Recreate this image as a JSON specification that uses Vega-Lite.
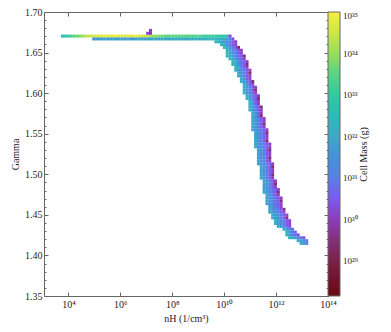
{
"$schema": "https://vega.github.io/schema/vega-lite/v6.json",
"width": 284, "height": 284,
"autosize": {"type": "none"},
"padding": {"left": 44, "top": 12, "right": 63, "bottom": 36},
"background": "white",
"config": {
 "view": {"stroke": "#666", "strokeWidth": 1},
 "font": "Liberation Serif",
 "axis": {"domainColor": "#666", "tickColor": "#666", "labelColor": "#222", "titleColor": "#222", "grid": false, "labelFont": "Liberation Serif", "titleFont": "Liberation Serif", "titleFontWeight": "normal", "labelFontSize": 10, "titleFontSize": 10}
},
"data": {"values": [
{"lognH":3.771,"gamma":1.6703,"logM":32.6},{"lognH":3.881,"gamma":1.6703,"logM":32.8},{"lognH":3.990,"gamma":1.6703,"logM":33.0},{"lognH":4.099,"gamma":1.6703,"logM":33.2},{"lognH":4.209,"gamma":1.6703,"logM":33.4},{"lognH":4.318,"gamma":1.6703,"logM":33.6},{"lognH":4.427,"gamma":1.6703,"logM":33.8},{"lognH":4.537,"gamma":1.6703,"logM":34.0},{"lognH":4.646,"gamma":1.6703,"logM":34.2},{"lognH":4.756,"gamma":1.6703,"logM":34.4},{"lognH":4.865,"gamma":1.6703,"logM":34.5},{"lognH":4.975,"gamma":1.6703,"logM":34.6},{"lognH":5.084,"gamma":1.6703,"logM":34.7},{"lognH":5.193,"gamma":1.6703,"logM":34.8},{"lognH":5.303,"gamma":1.6703,"logM":34.7},{"lognH":5.412,"gamma":1.6703,"logM":34.9},{"lognH":5.522,"gamma":1.6703,"logM":34.8},{"lognH":5.631,"gamma":1.6703,"logM":34.7},{"lognH":5.740,"gamma":1.6703,"logM":34.8},{"lognH":5.850,"gamma":1.6703,"logM":34.9},{"lognH":5.959,"gamma":1.6703,"logM":34.7},{"lognH":6.069,"gamma":1.6703,"logM":34.8},{"lognH":6.178,"gamma":1.6703,"logM":34.6},{"lognH":6.287,"gamma":1.6703,"logM":34.8},{"lognH":6.397,"gamma":1.6703,"logM":34.7},{"lognH":6.506,"gamma":1.6703,"logM":34.8},{"lognH":6.616,"gamma":1.6703,"logM":34.9},{"lognH":6.725,"gamma":1.6703,"logM":34.7},{"lognH":6.834,"gamma":1.6703,"logM":34.6},{"lognH":6.944,"gamma":1.6703,"logM":34.5},{"lognH":7.053,"gamma":1.6703,"logM":34.4},{"lognH":7.163,"gamma":1.6703,"logM":34.2},{"lognH":7.272,"gamma":1.6703,"logM":34.0},{"lognH":7.381,"gamma":1.6703,"logM":33.9},{"lognH":7.491,"gamma":1.6703,"logM":33.8},{"lognH":7.600,"gamma":1.6703,"logM":33.7},{"lognH":7.710,"gamma":1.6703,"logM":33.6},{"lognH":7.819,"gamma":1.6703,"logM":33.5},{"lognH":7.928,"gamma":1.6703,"logM":33.7},{"lognH":8.038,"gamma":1.6703,"logM":33.5},{"lognH":8.147,"gamma":1.6703,"logM":33.6},{"lognH":8.257,"gamma":1.6703,"logM":33.4},{"lognH":8.366,"gamma":1.6703,"logM":33.5},{"lognH":8.475,"gamma":1.6703,"logM":33.6},{"lognH":8.585,"gamma":1.6703,"logM":33.4},{"lognH":8.694,"gamma":1.6703,"logM":33.5},{"lognH":8.804,"gamma":1.6703,"logM":33.3},{"lognH":8.913,"gamma":1.6703,"logM":33.4},{"lognH":9.022,"gamma":1.6703,"logM":33.5},{"lognH":9.132,"gamma":1.6703,"logM":33.3},{"lognH":9.241,"gamma":1.6703,"logM":33.2},{"lognH":9.351,"gamma":1.6703,"logM":33.1},{"lognH":9.460,"gamma":1.6703,"logM":33.2},{"lognH":9.569,"gamma":1.6703,"logM":33.0},{"lognH":9.679,"gamma":1.6703,"logM":33.1},{"lognH":9.788,"gamma":1.6703,"logM":32.9},{"lognH":9.898,"gamma":1.6703,"logM":33.0},{"lognH":10.007,"gamma":1.6703,"logM":32.8},{"lognH":10.116,"gamma":1.6703,"logM":32.6},{"lognH":10.226,"gamma":1.6703,"logM":30.1},
{"lognH":4.975,"gamma":1.6668,"logM":31.6},{"lognH":5.084,"gamma":1.6668,"logM":31.8},{"lognH":5.193,"gamma":1.6668,"logM":31.5},{"lognH":5.303,"gamma":1.6668,"logM":31.7},{"lognH":5.412,"gamma":1.6668,"logM":32.0},{"lognH":5.522,"gamma":1.6668,"logM":31.6},{"lognH":5.631,"gamma":1.6668,"logM":31.8},{"lognH":5.740,"gamma":1.6668,"logM":32.1},{"lognH":5.850,"gamma":1.6668,"logM":31.5},{"lognH":5.959,"gamma":1.6668,"logM":31.7},{"lognH":6.069,"gamma":1.6668,"logM":31.9},{"lognH":6.178,"gamma":1.6668,"logM":31.6},{"lognH":6.287,"gamma":1.6668,"logM":32.0},{"lognH":6.397,"gamma":1.6668,"logM":31.7},{"lognH":6.506,"gamma":1.6668,"logM":31.5},{"lognH":6.616,"gamma":1.6668,"logM":31.9},{"lognH":6.725,"gamma":1.6668,"logM":32.1},{"lognH":6.834,"gamma":1.6668,"logM":31.7},{"lognH":6.944,"gamma":1.6668,"logM":31.6},{"lognH":7.053,"gamma":1.6668,"logM":32.0},{"lognH":7.163,"gamma":1.6668,"logM":31.8},{"lognH":7.272,"gamma":1.6668,"logM":32.1},{"lognH":7.381,"gamma":1.6668,"logM":31.9},{"lognH":7.491,"gamma":1.6668,"logM":31.7},{"lognH":7.600,"gamma":1.6668,"logM":32.2},{"lognH":7.710,"gamma":1.6668,"logM":32.0},{"lognH":7.819,"gamma":1.6668,"logM":31.8},{"lognH":7.928,"gamma":1.6668,"logM":32.1},{"lognH":8.038,"gamma":1.6668,"logM":32.3},{"lognH":8.147,"gamma":1.6668,"logM":31.9},{"lognH":8.257,"gamma":1.6668,"logM":32.1},{"lognH":8.366,"gamma":1.6668,"logM":32.2},{"lognH":8.475,"gamma":1.6668,"logM":32.0},{"lognH":8.585,"gamma":1.6668,"logM":32.3},{"lognH":8.694,"gamma":1.6668,"logM":32.1},{"lognH":8.804,"gamma":1.6668,"logM":32.2},{"lognH":8.913,"gamma":1.6668,"logM":32.4},{"lognH":9.022,"gamma":1.6668,"logM":32.1},{"lognH":9.132,"gamma":1.6668,"logM":32.3},{"lognH":9.241,"gamma":1.6668,"logM":32.2},{"lognH":9.351,"gamma":1.6668,"logM":32.4},{"lognH":9.460,"gamma":1.6668,"logM":32.3},{"lognH":9.569,"gamma":1.6668,"logM":32.5},{"lognH":9.679,"gamma":1.6668,"logM":32.4},{"lognH":9.788,"gamma":1.6668,"logM":32.3},{"lognH":9.898,"gamma":1.6668,"logM":32.2},{"lognH":10.007,"gamma":1.6668,"logM":32.0},{"lognH":10.116,"gamma":1.6668,"logM":31.7},{"lognH":10.226,"gamma":1.6668,"logM":31.3},{"lognH":10.335,"gamma":1.6668,"logM":30.2},
{"lognH":7.053,"gamma":1.6738,"logM":30.2},{"lognH":7.163,"gamma":1.6738,"logM":29.9},{"lognH":7.163,"gamma":1.6773,"logM":30.0},
{"lognH":9.679,"gamma":1.6633,"logM":32.5},{"lognH":9.788,"gamma":1.6633,"logM":32.3},{"lognH":9.898,"gamma":1.6633,"logM":32.1},{"lognH":10.007,"gamma":1.6633,"logM":31.7},{"lognH":10.116,"gamma":1.6633,"logM":31.4},{"lognH":10.226,"gamma":1.6633,"logM":31.0},{"lognH":10.335,"gamma":1.6633,"logM":30.5},{"lognH":10.445,"gamma":1.6633,"logM":30.1},
{"lognH":9.898,"gamma":1.6598,"logM":32.5},{"lognH":10.007,"gamma":1.6598,"logM":32.1},{"lognH":10.116,"gamma":1.6598,"logM":31.3},{"lognH":10.226,"gamma":1.6598,"logM":30.9},{"lognH":10.335,"gamma":1.6598,"logM":30.5},{"lognH":10.445,"gamma":1.6598,"logM":30.1},
{"lognH":10.007,"gamma":1.6563,"logM":32.5},{"lognH":10.116,"gamma":1.6563,"logM":32.1},{"lognH":10.226,"gamma":1.6563,"logM":31.3},{"lognH":10.335,"gamma":1.6563,"logM":30.9},{"lognH":10.445,"gamma":1.6563,"logM":30.5},{"lognH":10.554,"gamma":1.6563,"logM":29.4},
{"lognH":10.116,"gamma":1.6528,"logM":32.5},{"lognH":10.226,"gamma":1.6528,"logM":32.1},{"lognH":10.335,"gamma":1.6528,"logM":31.3},{"lognH":10.445,"gamma":1.6528,"logM":30.9},{"lognH":10.554,"gamma":1.6528,"logM":30.5},{"lognH":10.663,"gamma":1.6528,"logM":30.1},
{"lognH":10.116,"gamma":1.6493,"logM":32.5},{"lognH":10.226,"gamma":1.6493,"logM":32.1},{"lognH":10.335,"gamma":1.6493,"logM":31.3},{"lognH":10.445,"gamma":1.6493,"logM":30.9},{"lognH":10.554,"gamma":1.6493,"logM":30.5},{"lognH":10.663,"gamma":1.6493,"logM":30.1},
{"lognH":10.116,"gamma":1.6458,"logM":32.5},{"lognH":10.226,"gamma":1.6458,"logM":32.2},{"lognH":10.335,"gamma":1.6458,"logM":31.7},{"lognH":10.445,"gamma":1.6458,"logM":31.2},{"lognH":10.554,"gamma":1.6458,"logM":30.8},{"lognH":10.663,"gamma":1.6458,"logM":30.5},{"lognH":10.773,"gamma":1.6458,"logM":29.4},
{"lognH":10.226,"gamma":1.6423,"logM":32.5},{"lognH":10.335,"gamma":1.6423,"logM":32.1},{"lognH":10.445,"gamma":1.6423,"logM":31.3},{"lognH":10.554,"gamma":1.6423,"logM":30.9},{"lognH":10.663,"gamma":1.6423,"logM":30.5},{"lognH":10.773,"gamma":1.6423,"logM":30.1},
{"lognH":10.335,"gamma":1.6388,"logM":32.5},{"lognH":10.445,"gamma":1.6388,"logM":32.1},{"lognH":10.554,"gamma":1.6388,"logM":31.3},{"lognH":10.663,"gamma":1.6388,"logM":30.9},{"lognH":10.773,"gamma":1.6388,"logM":30.5},{"lognH":10.882,"gamma":1.6388,"logM":30.1},
{"lognH":10.335,"gamma":1.6353,"logM":32.5},{"lognH":10.445,"gamma":1.6353,"logM":32.1},{"lognH":10.554,"gamma":1.6353,"logM":31.3},{"lognH":10.663,"gamma":1.6353,"logM":30.9},{"lognH":10.773,"gamma":1.6353,"logM":30.5},{"lognH":10.882,"gamma":1.6353,"logM":29.4},
{"lognH":10.445,"gamma":1.6318,"logM":32.5},{"lognH":10.554,"gamma":1.6318,"logM":32.1},{"lognH":10.663,"gamma":1.6318,"logM":31.0},{"lognH":10.773,"gamma":1.6318,"logM":30.5},{"lognH":10.882,"gamma":1.6318,"logM":30.1},
{"lognH":10.445,"gamma":1.6283,"logM":32.1},{"lognH":10.554,"gamma":1.6283,"logM":31.7},{"lognH":10.663,"gamma":1.6283,"logM":31.3},{"lognH":10.773,"gamma":1.6283,"logM":30.9},{"lognH":10.882,"gamma":1.6283,"logM":30.5},{"lognH":10.992,"gamma":1.6283,"logM":30.1},
{"lognH":10.554,"gamma":1.6248,"logM":32.1},{"lognH":10.663,"gamma":1.6248,"logM":31.7},{"lognH":10.773,"gamma":1.6248,"logM":31.0},{"lognH":10.882,"gamma":1.6248,"logM":30.5},{"lognH":10.992,"gamma":1.6248,"logM":29.4},
{"lognH":10.554,"gamma":1.6213,"logM":32.1},{"lognH":10.663,"gamma":1.6213,"logM":31.7},{"lognH":10.773,"gamma":1.6213,"logM":31.0},{"lognH":10.882,"gamma":1.6213,"logM":30.5},{"lognH":10.992,"gamma":1.6213,"logM":30.1},
{"lognH":10.663,"gamma":1.6178,"logM":32.1},{"lognH":10.773,"gamma":1.6178,"logM":31.7},{"lognH":10.882,"gamma":1.6178,"logM":30.5},{"lognH":10.992,"gamma":1.6178,"logM":30.1},
{"lognH":10.663,"gamma":1.6143,"logM":32.1},{"lognH":10.773,"gamma":1.6143,"logM":31.7},{"lognH":10.882,"gamma":1.6143,"logM":31.0},{"lognH":10.992,"gamma":1.6143,"logM":30.5},{"lognH":11.101,"gamma":1.6143,"logM":29.4},
{"lognH":10.773,"gamma":1.6108,"logM":32.1},{"lognH":10.882,"gamma":1.6108,"logM":31.7},{"lognH":10.992,"gamma":1.6108,"logM":30.5},{"lognH":11.101,"gamma":1.6108,"logM":30.1},
{"lognH":10.773,"gamma":1.6073,"logM":32.1},{"lognH":10.882,"gamma":1.6073,"logM":31.7},{"lognH":10.992,"gamma":1.6073,"logM":31.0},{"lognH":11.101,"gamma":1.6073,"logM":30.5},{"lognH":11.210,"gamma":1.6073,"logM":30.1},
{"lognH":10.773,"gamma":1.6038,"logM":32.1},{"lognH":10.882,"gamma":1.6038,"logM":31.7},{"lognH":10.992,"gamma":1.6038,"logM":31.0},{"lognH":11.101,"gamma":1.6038,"logM":30.5},{"lognH":11.210,"gamma":1.6038,"logM":29.4},
{"lognH":10.773,"gamma":1.6003,"logM":32.1},{"lognH":10.882,"gamma":1.6003,"logM":31.7},{"lognH":10.992,"gamma":1.6003,"logM":31.0},{"lognH":11.101,"gamma":1.6003,"logM":30.5},{"lognH":11.210,"gamma":1.6003,"logM":30.1},
{"lognH":10.882,"gamma":1.5968,"logM":32.1},{"lognH":10.992,"gamma":1.5968,"logM":31.7},{"lognH":11.101,"gamma":1.5968,"logM":31.0},{"lognH":11.210,"gamma":1.5968,"logM":30.5},{"lognH":11.320,"gamma":1.5968,"logM":30.1},
{"lognH":10.882,"gamma":1.5933,"logM":32.1},{"lognH":10.992,"gamma":1.5933,"logM":31.7},{"lognH":11.101,"gamma":1.5933,"logM":31.0},{"lognH":11.210,"gamma":1.5933,"logM":30.5},{"lognH":11.320,"gamma":1.5933,"logM":29.4},
{"lognH":10.992,"gamma":1.5898,"logM":32.1},{"lognH":11.101,"gamma":1.5898,"logM":31.7},{"lognH":11.210,"gamma":1.5898,"logM":30.5},{"lognH":11.320,"gamma":1.5898,"logM":30.1},
{"lognH":10.992,"gamma":1.5863,"logM":32.1},{"lognH":11.101,"gamma":1.5863,"logM":31.7},{"lognH":11.210,"gamma":1.5863,"logM":30.5},{"lognH":11.320,"gamma":1.5863,"logM":30.1},
{"lognH":10.992,"gamma":1.5828,"logM":32.1},{"lognH":11.101,"gamma":1.5828,"logM":31.7},{"lognH":11.210,"gamma":1.5828,"logM":31.0},{"lognH":11.320,"gamma":1.5828,"logM":30.5},{"lognH":11.429,"gamma":1.5828,"logM":29.4},
{"lognH":10.992,"gamma":1.5793,"logM":32.1},{"lognH":11.101,"gamma":1.5793,"logM":31.7},{"lognH":11.210,"gamma":1.5793,"logM":31.0},{"lognH":11.320,"gamma":1.5793,"logM":30.5},{"lognH":11.429,"gamma":1.5793,"logM":30.1},
{"lognH":11.101,"gamma":1.5758,"logM":32.1},{"lognH":11.210,"gamma":1.5758,"logM":31.7},{"lognH":11.320,"gamma":1.5758,"logM":30.5},{"lognH":11.429,"gamma":1.5758,"logM":30.1},
{"lognH":11.101,"gamma":1.5723,"logM":32.1},{"lognH":11.210,"gamma":1.5723,"logM":31.7},{"lognH":11.320,"gamma":1.5723,"logM":30.5},{"lognH":11.429,"gamma":1.5723,"logM":29.4},
{"lognH":11.101,"gamma":1.5688,"logM":32.1},{"lognH":11.210,"gamma":1.5688,"logM":31.7},{"lognH":11.320,"gamma":1.5688,"logM":31.0},{"lognH":11.429,"gamma":1.5688,"logM":30.5},{"lognH":11.539,"gamma":1.5688,"logM":30.1},
{"lognH":11.101,"gamma":1.5653,"logM":32.1},{"lognH":11.210,"gamma":1.5653,"logM":31.7},{"lognH":11.320,"gamma":1.5653,"logM":31.0},{"lognH":11.429,"gamma":1.5653,"logM":30.5},{"lognH":11.539,"gamma":1.5653,"logM":30.1},
{"lognH":11.101,"gamma":1.5618,"logM":32.1},{"lognH":11.210,"gamma":1.5618,"logM":31.7},{"lognH":11.320,"gamma":1.5618,"logM":31.0},{"lognH":11.429,"gamma":1.5618,"logM":30.5},{"lognH":11.539,"gamma":1.5618,"logM":29.4},
{"lognH":11.101,"gamma":1.5583,"logM":31.9},{"lognH":11.210,"gamma":1.5583,"logM":31.5},{"lognH":11.320,"gamma":1.5583,"logM":31.0},{"lognH":11.429,"gamma":1.5583,"logM":30.5},{"lognH":11.539,"gamma":1.5583,"logM":30.1},
{"lognH":11.101,"gamma":1.5548,"logM":31.9},{"lognH":11.210,"gamma":1.5548,"logM":31.5},{"lognH":11.320,"gamma":1.5548,"logM":31.2},{"lognH":11.429,"gamma":1.5548,"logM":30.8},{"lognH":11.539,"gamma":1.5548,"logM":30.5},{"lognH":11.648,"gamma":1.5548,"logM":30.1},
{"lognH":11.210,"gamma":1.5513,"logM":31.9},{"lognH":11.320,"gamma":1.5513,"logM":31.5},{"lognH":11.429,"gamma":1.5513,"logM":31.0},{"lognH":11.539,"gamma":1.5513,"logM":30.5},{"lognH":11.648,"gamma":1.5513,"logM":29.4},
{"lognH":11.210,"gamma":1.5478,"logM":31.9},{"lognH":11.320,"gamma":1.5478,"logM":31.5},{"lognH":11.429,"gamma":1.5478,"logM":31.0},{"lognH":11.539,"gamma":1.5478,"logM":30.5},{"lognH":11.648,"gamma":1.5478,"logM":30.1},
{"lognH":11.210,"gamma":1.5443,"logM":31.9},{"lognH":11.320,"gamma":1.5443,"logM":31.5},{"lognH":11.429,"gamma":1.5443,"logM":31.0},{"lognH":11.539,"gamma":1.5443,"logM":30.5},{"lognH":11.648,"gamma":1.5443,"logM":30.1},
{"lognH":11.210,"gamma":1.5408,"logM":31.9},{"lognH":11.320,"gamma":1.5408,"logM":31.5},{"lognH":11.429,"gamma":1.5408,"logM":31.0},{"lognH":11.539,"gamma":1.5408,"logM":30.5},{"lognH":11.648,"gamma":1.5408,"logM":29.4},
{"lognH":11.210,"gamma":1.5373,"logM":31.9},{"lognH":11.320,"gamma":1.5373,"logM":31.5},{"lognH":11.429,"gamma":1.5373,"logM":31.2},{"lognH":11.539,"gamma":1.5373,"logM":30.8},{"lognH":11.648,"gamma":1.5373,"logM":30.5},{"lognH":11.757,"gamma":1.5373,"logM":30.1},
{"lognH":11.210,"gamma":1.5338,"logM":31.9},{"lognH":11.320,"gamma":1.5338,"logM":31.5},{"lognH":11.429,"gamma":1.5338,"logM":31.2},{"lognH":11.539,"gamma":1.5338,"logM":30.8},{"lognH":11.648,"gamma":1.5338,"logM":30.5},{"lognH":11.757,"gamma":1.5338,"logM":30.1},
{"lognH":11.320,"gamma":1.5303,"logM":31.9},{"lognH":11.429,"gamma":1.5303,"logM":31.5},{"lognH":11.539,"gamma":1.5303,"logM":31.0},{"lognH":11.648,"gamma":1.5303,"logM":30.5},{"lognH":11.757,"gamma":1.5303,"logM":29.4},
{"lognH":11.320,"gamma":1.5268,"logM":31.9},{"lognH":11.429,"gamma":1.5268,"logM":31.5},{"lognH":11.539,"gamma":1.5268,"logM":31.0},{"lognH":11.648,"gamma":1.5268,"logM":30.5},{"lognH":11.757,"gamma":1.5268,"logM":30.1},
{"lognH":11.320,"gamma":1.5233,"logM":31.9},{"lognH":11.429,"gamma":1.5233,"logM":31.5},{"lognH":11.539,"gamma":1.5233,"logM":31.0},{"lognH":11.648,"gamma":1.5233,"logM":30.5},{"lognH":11.757,"gamma":1.5233,"logM":30.1},
{"lognH":11.320,"gamma":1.5198,"logM":31.9},{"lognH":11.429,"gamma":1.5198,"logM":31.5},{"lognH":11.539,"gamma":1.5198,"logM":31.0},{"lognH":11.648,"gamma":1.5198,"logM":30.5},{"lognH":11.757,"gamma":1.5198,"logM":29.4},
{"lognH":11.320,"gamma":1.5163,"logM":31.9},{"lognH":11.429,"gamma":1.5163,"logM":31.5},{"lognH":11.539,"gamma":1.5163,"logM":31.0},{"lognH":11.648,"gamma":1.5163,"logM":30.5},{"lognH":11.757,"gamma":1.5163,"logM":30.1},
{"lognH":11.320,"gamma":1.5128,"logM":31.9},{"lognH":11.429,"gamma":1.5128,"logM":31.5},{"lognH":11.539,"gamma":1.5128,"logM":31.2},{"lognH":11.648,"gamma":1.5128,"logM":30.8},{"lognH":11.757,"gamma":1.5128,"logM":30.5},{"lognH":11.867,"gamma":1.5128,"logM":30.1},
{"lognH":11.429,"gamma":1.5093,"logM":31.9},{"lognH":11.539,"gamma":1.5093,"logM":31.5},{"lognH":11.648,"gamma":1.5093,"logM":31.0},{"lognH":11.757,"gamma":1.5093,"logM":30.5},{"lognH":11.867,"gamma":1.5093,"logM":29.4},
{"lognH":11.429,"gamma":1.5058,"logM":31.9},{"lognH":11.539,"gamma":1.5058,"logM":31.5},{"lognH":11.648,"gamma":1.5058,"logM":31.0},{"lognH":11.757,"gamma":1.5058,"logM":30.5},{"lognH":11.867,"gamma":1.5058,"logM":30.1},
{"lognH":11.429,"gamma":1.5023,"logM":31.9},{"lognH":11.539,"gamma":1.5023,"logM":31.5},{"lognH":11.648,"gamma":1.5023,"logM":31.0},{"lognH":11.757,"gamma":1.5023,"logM":30.5},{"lognH":11.867,"gamma":1.5023,"logM":30.1},
{"lognH":11.429,"gamma":1.4988,"logM":31.9},{"lognH":11.539,"gamma":1.4988,"logM":31.5},{"lognH":11.648,"gamma":1.4988,"logM":31.0},{"lognH":11.757,"gamma":1.4988,"logM":30.5},{"lognH":11.867,"gamma":1.4988,"logM":29.4},
{"lognH":11.429,"gamma":1.4953,"logM":31.9},{"lognH":11.539,"gamma":1.4953,"logM":31.5},{"lognH":11.648,"gamma":1.4953,"logM":31.0},{"lognH":11.757,"gamma":1.4953,"logM":30.5},{"lognH":11.867,"gamma":1.4953,"logM":30.1},
{"lognH":11.539,"gamma":1.4918,"logM":31.9},{"lognH":11.648,"gamma":1.4918,"logM":31.5},{"lognH":11.757,"gamma":1.4918,"logM":31.0},{"lognH":11.867,"gamma":1.4918,"logM":30.5},{"lognH":11.976,"gamma":1.4918,"logM":30.1},
{"lognH":11.539,"gamma":1.4883,"logM":31.9},{"lognH":11.648,"gamma":1.4883,"logM":31.5},{"lognH":11.757,"gamma":1.4883,"logM":31.0},{"lognH":11.867,"gamma":1.4883,"logM":30.5},{"lognH":11.976,"gamma":1.4883,"logM":29.4},
{"lognH":11.539,"gamma":1.4848,"logM":31.9},{"lognH":11.648,"gamma":1.4848,"logM":31.5},{"lognH":11.757,"gamma":1.4848,"logM":31.0},{"lognH":11.867,"gamma":1.4848,"logM":30.5},{"lognH":11.976,"gamma":1.4848,"logM":30.1},
{"lognH":11.539,"gamma":1.4813,"logM":31.9},{"lognH":11.648,"gamma":1.4813,"logM":31.5},{"lognH":11.757,"gamma":1.4813,"logM":31.2},{"lognH":11.867,"gamma":1.4813,"logM":30.8},{"lognH":11.976,"gamma":1.4813,"logM":30.5},{"lognH":12.086,"gamma":1.4813,"logM":30.1},
{"lognH":11.539,"gamma":1.4778,"logM":31.9},{"lognH":11.648,"gamma":1.4778,"logM":31.5},{"lognH":11.757,"gamma":1.4778,"logM":31.2},{"lognH":11.867,"gamma":1.4778,"logM":30.8},{"lognH":11.976,"gamma":1.4778,"logM":30.5},{"lognH":12.086,"gamma":1.4778,"logM":29.4},
{"lognH":11.648,"gamma":1.4743,"logM":31.9},{"lognH":11.757,"gamma":1.4743,"logM":31.5},{"lognH":11.867,"gamma":1.4743,"logM":31.0},{"lognH":11.976,"gamma":1.4743,"logM":30.5},{"lognH":12.086,"gamma":1.4743,"logM":30.1},
{"lognH":11.648,"gamma":1.4708,"logM":31.9},{"lognH":11.757,"gamma":1.4708,"logM":31.5},{"lognH":11.867,"gamma":1.4708,"logM":31.2},{"lognH":11.976,"gamma":1.4708,"logM":30.8},{"lognH":12.086,"gamma":1.4708,"logM":30.5},{"lognH":12.195,"gamma":1.4708,"logM":30.1},
{"lognH":11.648,"gamma":1.4673,"logM":31.9},{"lognH":11.757,"gamma":1.4673,"logM":31.5},{"lognH":11.867,"gamma":1.4673,"logM":31.2},{"lognH":11.976,"gamma":1.4673,"logM":30.8},{"lognH":12.086,"gamma":1.4673,"logM":30.5},{"lognH":12.195,"gamma":1.4673,"logM":29.5},
{"lognH":11.648,"gamma":1.4638,"logM":31.9},{"lognH":11.757,"gamma":1.4638,"logM":31.5},{"lognH":11.867,"gamma":1.4638,"logM":31.2},{"lognH":11.976,"gamma":1.4638,"logM":30.8},{"lognH":12.086,"gamma":1.4638,"logM":30.5},{"lognH":12.195,"gamma":1.4638,"logM":30.2},
{"lognH":11.757,"gamma":1.4603,"logM":31.9},{"lognH":11.867,"gamma":1.4603,"logM":31.5},{"lognH":11.976,"gamma":1.4603,"logM":31.0},{"lognH":12.086,"gamma":1.4603,"logM":30.5},{"lognH":12.195,"gamma":1.4603,"logM":30.2},
{"lognH":11.757,"gamma":1.4568,"logM":31.9},{"lognH":11.867,"gamma":1.4568,"logM":31.5},{"lognH":11.976,"gamma":1.4568,"logM":31.2},{"lognH":12.086,"gamma":1.4568,"logM":30.8},{"lognH":12.195,"gamma":1.4568,"logM":30.5},{"lognH":12.304,"gamma":1.4568,"logM":29.5},
{"lognH":11.757,"gamma":1.4533,"logM":32.1},{"lognH":11.867,"gamma":1.4533,"logM":31.7},{"lognH":11.976,"gamma":1.4533,"logM":31.3},{"lognH":12.086,"gamma":1.4533,"logM":30.9},{"lognH":12.195,"gamma":1.4533,"logM":30.5},{"lognH":12.304,"gamma":1.4533,"logM":30.2},
{"lognH":11.867,"gamma":1.4498,"logM":32.1},{"lognH":11.976,"gamma":1.4498,"logM":31.7},{"lognH":12.086,"gamma":1.4498,"logM":31.3},{"lognH":12.195,"gamma":1.4498,"logM":30.9},{"lognH":12.304,"gamma":1.4498,"logM":30.5},{"lognH":12.414,"gamma":1.4498,"logM":30.2},
{"lognH":11.867,"gamma":1.4463,"logM":32.1},{"lognH":11.976,"gamma":1.4463,"logM":31.7},{"lognH":12.086,"gamma":1.4463,"logM":31.3},{"lognH":12.195,"gamma":1.4463,"logM":30.9},{"lognH":12.304,"gamma":1.4463,"logM":30.5},{"lognH":12.414,"gamma":1.4463,"logM":29.5},
{"lognH":11.976,"gamma":1.4428,"logM":32.1},{"lognH":12.086,"gamma":1.4428,"logM":31.7},{"lognH":12.195,"gamma":1.4428,"logM":31.3},{"lognH":12.304,"gamma":1.4428,"logM":30.9},{"lognH":12.414,"gamma":1.4428,"logM":30.5},{"lognH":12.523,"gamma":1.4428,"logM":30.2},
{"lognH":11.976,"gamma":1.4393,"logM":32.1},{"lognH":12.086,"gamma":1.4393,"logM":31.7},{"lognH":12.195,"gamma":1.4393,"logM":31.3},{"lognH":12.304,"gamma":1.4393,"logM":30.9},{"lognH":12.414,"gamma":1.4393,"logM":30.5},{"lognH":12.523,"gamma":1.4393,"logM":30.2},
{"lognH":12.086,"gamma":1.4358,"logM":32.2},{"lognH":12.195,"gamma":1.4358,"logM":31.7},{"lognH":12.304,"gamma":1.4358,"logM":31.2},{"lognH":12.414,"gamma":1.4358,"logM":30.7},{"lognH":12.523,"gamma":1.4358,"logM":30.3},
{"lognH":12.304,"gamma":1.4323,"logM":32.2},{"lognH":12.414,"gamma":1.4323,"logM":31.7},{"lognH":12.523,"gamma":1.4323,"logM":31.2},{"lognH":12.633,"gamma":1.4323,"logM":30.7},
{"lognH":12.414,"gamma":1.4288,"logM":32.2},{"lognH":12.523,"gamma":1.4288,"logM":31.7},{"lognH":12.633,"gamma":1.4288,"logM":31.2},{"lognH":12.742,"gamma":1.4288,"logM":30.6},
{"lognH":12.414,"gamma":1.4253,"logM":32.2},{"lognH":12.523,"gamma":1.4253,"logM":31.7},{"lognH":12.633,"gamma":1.4253,"logM":31.2},{"lognH":12.742,"gamma":1.4253,"logM":30.7},{"lognH":12.851,"gamma":1.4253,"logM":30.4},
{"lognH":12.523,"gamma":1.4218,"logM":32.3},{"lognH":12.633,"gamma":1.4218,"logM":32.1},{"lognH":12.742,"gamma":1.4218,"logM":31.7},{"lognH":12.851,"gamma":1.4218,"logM":31.2},{"lognH":12.961,"gamma":1.4218,"logM":30.7},{"lognH":13.070,"gamma":1.4218,"logM":30.4},
{"lognH":12.851,"gamma":1.4182,"logM":32.2},{"lognH":12.961,"gamma":1.4182,"logM":31.9},{"lognH":13.070,"gamma":1.4182,"logM":31.5},{"lognH":13.180,"gamma":1.4182,"logM":31.0},
{"lognH":12.961,"gamma":1.4148,"logM":32.0},{"lognH":13.070,"gamma":1.4148,"logM":31.6},{"lognH":13.180,"gamma":1.4148,"logM":31.1}
]},
"layer": [
 {
  "mark": {"type": "point", "shape": "square", "filled": true, "size": 9, "opacity": 1, "strokeWidth": 0},
  "encoding": {
   "x": {"field": "lognH", "type": "quantitative",
    "scale": {"domain": [3.06, 14], "nice": false, "zero": false},
    "axis": {"values": [4, 6, 8, 10, 12, 14], "labelExpr": "'10' + (datum.value == 4 ? '⁴' : datum.value == 6 ? '⁶' : datum.value == 8 ? '⁸' : datum.value == 10 ? '¹⁰' : datum.value == 12 ? '¹²' : '¹⁴')", "title": "nH  (1/cm³)", "tickSize": -4, "labelPadding": 7, "labelFlush": false, "titlePadding": 4}},
   "y": {"field": "gamma", "type": "quantitative",
    "scale": {"domain": [1.35, 1.70], "nice": false, "zero": false},
    "axis": {"values": [1.35, 1.36, 1.37, 1.38, 1.39, 1.4, 1.41, 1.42, 1.43, 1.44, 1.45, 1.46, 1.47, 1.48, 1.49, 1.5, 1.51, 1.52, 1.53, 1.54, 1.55, 1.56, 1.57, 1.58, 1.59, 1.6, 1.61, 1.62, 1.63, 1.64, 1.65, 1.66, 1.67, 1.68, 1.69, 1.7],
     "labelExpr": "abs(datum.value * 20 - round(datum.value * 20)) < 0.001 ? format(datum.value, '.2f') : ''",
     "tickSize": {"condition": {"test": "abs(datum.value * 20 - round(datum.value * 20)) < 0.001", "value": -4}, "value": -2},
     "title": "Gamma", "labelPadding": 6, "labelFlush": false, "labelOverlap": false, "titlePadding": 4}},
   "color": {"field": "logM", "type": "quantitative",
    "scale": {"domain": [28.16, 29.0, 29.5, 29.9, 30.25, 30.6, 31.0, 31.6, 32.0, 32.6, 33.0, 33.5, 34.0, 34.5, 35.0],
              "range": ["#6a0a10", "#782248", "#84307a", "#8c3ab0", "#8c44e0", "#7660f0", "#5a7ee8", "#4694d8", "#3ea8c6", "#32bcb4", "#34c8a0", "#58d484", "#98de5a", "#cce64a", "#f6ee3e"]},
    "legend": {"orient": "none", "legendX": 284, "legendY": 0, "direction": "vertical", "gradientLength": 284, "gradientThickness": 12, "gradientStrokeColor": "#666", "gradientStrokeWidth": 1,
     "values": [29, 30, 31, 32, 33, 34, 35],
     "labelExpr": "'10' + (datum.value == 29 ? '²⁹' : datum.value == 30 ? '³⁰' : datum.value == 31 ? '³¹' : datum.value == 32 ? '³²' : datum.value == 33 ? '³³' : datum.value == 34 ? '³⁴' : '³⁵')",
     "labelFont": "Liberation Serif", "labelFontSize": 9, "labelColor": "#222", "labelOffset": 3, "labelOverlap": false, "labelFlush": false,
     "title": null}}
  }
 },
 {
  "mark": {"type": "point", "opacity": 0},
  "encoding": {
   "x": {"field": "lognH", "type": "quantitative",
    "scale": {"domain": [3.06, 14], "nice": false, "zero": false},
    "axis": {"orient": "top", "values": [4, 6, 8, 10, 12, 14], "labels": false, "title": null, "domain": false, "tickSize": -4}},
   "y": {"field": "gamma", "type": "quantitative",
    "scale": {"domain": [1.35, 1.70], "nice": false, "zero": false},
    "axis": {"orient": "right", "values": [1.35, 1.36, 1.37, 1.38, 1.39, 1.4, 1.41, 1.42, 1.43, 1.44, 1.45, 1.46, 1.47, 1.48, 1.49, 1.5, 1.51, 1.52, 1.53, 1.54, 1.55, 1.56, 1.57, 1.58, 1.59, 1.6, 1.61, 1.62, 1.63, 1.64, 1.65, 1.66, 1.67, 1.68, 1.69, 1.7],
     "labels": false, "domain": false,
     "tickSize": {"condition": {"test": "abs(datum.value * 20 - round(datum.value * 20)) < 0.001", "value": -4}, "value": -2},
     "title": "Cell Mass (g)", "titleAngle": 270, "titlePadding": 40, "titleFont": "Liberation Serif", "titleFontSize": 10, "titleFontWeight": "normal", "titleColor": "#222"}}
  }
 }
],
"resolve": {"axis": {"x": "independent", "y": "independent"}}
}
